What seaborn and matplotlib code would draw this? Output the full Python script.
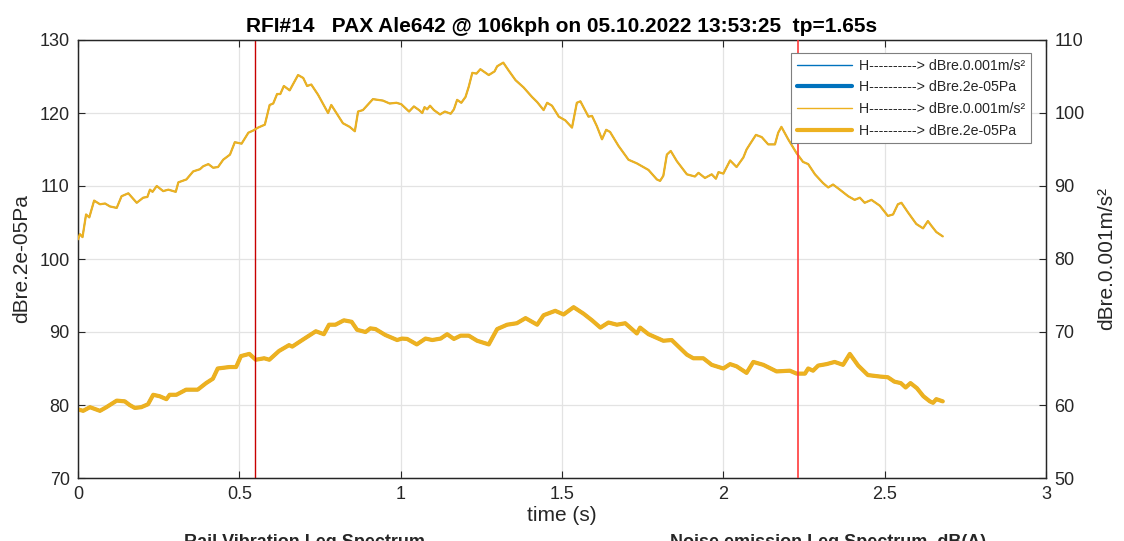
import numpy as np
import pandas as pd
import matplotlib
matplotlib.use("Agg")
import matplotlib.pyplot as plt
from matplotlib.lines import Line2D
import seaborn as sns

# ---------------- data ----------------
# rail vibration level (right axis, dB re 0.001 m/s^2)
t_vib = [0, 0.006, 0.014, 0.025, 0.035, 0.05, 0.068, 0.084, 0.099, 0.12, 0.135, 0.156,
         0.182, 0.202, 0.215, 0.223, 0.231, 0.244, 0.264, 0.28, 0.303, 0.311, 0.336, 0.357,
         0.378, 0.388, 0.404, 0.419, 0.434, 0.45, 0.471, 0.486, 0.507, 0.528, 0.543, 0.558,
         0.579, 0.594, 0.605, 0.617, 0.627, 0.638, 0.656, 0.682, 0.698, 0.71, 0.723, 0.744,
         0.775, 0.785, 0.801, 0.821, 0.842, 0.858, 0.868, 0.883, 0.914, 0.945, 0.966, 0.987,
         1.002, 1.026, 1.041, 1.057, 1.067, 1.074, 1.082, 1.091, 1.103, 1.122, 1.137, 1.155,
         1.165, 1.175, 1.188, 1.201, 1.211, 1.222, 1.235, 1.247, 1.273, 1.291, 1.299, 1.318,
         1.335, 1.356, 1.381, 1.407, 1.423, 1.443, 1.454, 1.469, 1.49, 1.51, 1.531, 1.546,
         1.557, 1.582, 1.593, 1.608, 1.624, 1.637, 1.649, 1.675, 1.706, 1.732, 1.768, 1.794,
         1.804, 1.814, 1.825, 1.837, 1.856, 1.887, 1.912, 1.923, 1.943, 1.964, 1.977, 1.985,
         2.0, 2.021, 2.041, 2.062, 2.072, 2.082, 2.101, 2.119, 2.139, 2.16, 2.17, 2.18,
         2.201, 2.227, 2.247, 2.263, 2.284, 2.309, 2.325, 2.34, 2.361, 2.387, 2.407, 2.423,
         2.438, 2.459, 2.485, 2.51, 2.526, 2.541, 2.552, 2.572, 2.598, 2.619, 2.634, 2.644,
         2.66, 2.68]
vib_db = [82.7, 83.4, 83.0, 86.1, 85.7, 88.0, 87.5, 87.6, 87.2, 87.0, 88.6, 89.0,
          87.7, 88.4, 88.5, 89.5, 89.2, 90.0, 89.3, 89.5, 89.2, 90.5, 90.9, 92.0,
          92.3, 92.7, 93.0, 92.5, 92.6, 93.6, 94.3, 96.0, 95.8, 97.3, 97.6, 98.0,
          98.4, 101.1, 101.3, 102.6, 102.6, 103.7, 103.1, 105.2, 104.8, 103.7, 103.9, 102.5,
          100.0, 101.1, 100.0, 98.6, 98.1, 97.5, 100.2, 100.4, 101.9, 101.7, 101.3, 101.4,
          101.2, 100.2, 100.9, 100.4, 100.0, 100.8, 100.5, 101.0, 100.4, 99.8, 100.2, 99.9,
          100.5, 101.8, 101.4, 102.2, 103.6, 105.5, 105.4, 106.0, 105.2, 105.7, 106.4, 106.9,
          105.8, 104.5, 103.5, 102.2, 101.5, 100.4, 101.4, 101.0, 99.5, 99.0, 98.0, 101.4,
          101.6, 99.5, 99.6, 98.2, 96.4, 97.7, 97.4, 95.5, 93.6, 93.1, 92.2, 90.9,
          90.7, 91.4, 94.3, 94.8, 93.4, 91.6, 91.3, 91.8, 91.1, 91.6, 91.0, 91.9,
          91.7, 93.5, 92.6, 93.9, 95.0, 95.7, 97.0, 96.7, 95.7, 95.7, 97.3, 98.1,
          96.4, 94.5, 93.3, 93.0, 91.6, 90.4, 89.8, 90.2, 89.5, 88.6, 88.1, 88.4,
          87.7, 88.1, 87.3, 85.9, 86.1, 87.5, 87.7, 86.4, 84.8, 84.2, 85.2, 84.6,
          83.7, 83.1]

# noise emission level (left axis, dB re 2e-05 Pa)
t_noise = [0, 0.016, 0.037, 0.068, 0.088, 0.12, 0.145, 0.16, 0.176, 0.196, 0.217, 0.233,
           0.253, 0.274, 0.284, 0.305, 0.335, 0.371, 0.397, 0.418, 0.433, 0.469, 0.49, 0.505,
           0.531, 0.551, 0.577, 0.593, 0.623, 0.654, 0.664, 0.695, 0.737, 0.762, 0.778, 0.798,
           0.824, 0.848, 0.865, 0.891, 0.906, 0.922, 0.952, 0.989, 1.004, 1.02, 1.05, 1.077,
           1.098, 1.124, 1.144, 1.165, 1.186, 1.211, 1.237, 1.273, 1.299, 1.33, 1.36, 1.387,
           1.423, 1.443, 1.479, 1.505, 1.536, 1.567, 1.593, 1.619, 1.644, 1.67, 1.696, 1.732,
           1.742, 1.768, 1.814, 1.84, 1.861, 1.887, 1.907, 1.938, 1.964, 2.0, 2.021, 2.041,
           2.072, 2.093, 2.124, 2.165, 2.206, 2.227, 2.253, 2.263, 2.278, 2.294, 2.32, 2.345,
           2.371, 2.392, 2.418, 2.448, 2.485, 2.51, 2.53, 2.55, 2.565, 2.58, 2.60, 2.62,
           2.64, 2.65, 2.66, 2.68]
noise_db = [79.4, 79.2, 79.7, 79.2, 79.7, 80.6, 80.5, 80.0, 79.6, 79.7, 80.1, 81.4,
            81.2, 80.8, 81.4, 81.4, 82.1, 82.1, 83.0, 83.6, 85.0, 85.2, 85.2, 86.7,
            87.0, 86.2, 86.4, 86.2, 87.4, 88.2, 88.0, 88.9, 90.1, 89.7, 91.0, 91.0,
            91.6, 91.4, 90.3, 90.0, 90.5, 90.4, 89.6, 88.9, 89.1, 89.05, 88.3, 89.1,
            88.9, 89.1, 89.7, 89.05, 89.5, 89.5, 88.8, 88.3, 90.4, 91.0, 91.2, 91.9,
            91.0, 92.3, 92.9, 92.4, 93.4, 92.5, 91.6, 90.6, 91.3, 91.0, 91.2, 89.8,
            90.6, 89.7, 88.8, 88.9, 88.0, 86.9, 86.4, 86.4, 85.5, 85.0, 85.6, 85.3,
            84.4, 85.9, 85.5, 84.6, 84.7, 84.3, 84.3, 85.0, 84.7, 85.4, 85.6, 85.9,
            85.5, 87.0, 85.4, 84.1, 83.9, 83.8, 83.2, 83.0, 82.4, 83.0, 82.3, 81.2,
            80.5, 80.3, 80.8, 80.5]

marker_times = [0.548, 2.232]
x_ticks = [0, 0.5, 1, 1.5, 2, 2.5, 3]
left_ticks = [70, 80, 90, 100, 110, 120, 130]
right_ticks = [50, 60, 70, 80, 90, 100, 110]

title = "RFI#14   PAX Ale642 @ 106kph on 05.10.2022 13:53:25  tp=1.65s"
leg_labels = ["H----------> dBre.0.001m/s\u00b2", "H----------> dBre.2e-05Pa",
              "H----------> dBre.0.001m/s\u00b2", "H----------> dBre.2e-05Pa"]

# ---------------- style ----------------
sns.set_style("white")
plt.rcParams["font.family"] = ["Liberation Sans", "DejaVu Sans"]

BLUE = "#0072BD"
ORANGE = "#EDB120"
AXC = "#262626"

df_vib = pd.DataFrame({"t": t_vib, "v": vib_db})
df_noise = pd.DataFrame({"t": t_noise, "v": noise_db})

fig = plt.figure(figsize=(11.24, 5.41), dpi=100)
ax = fig.add_axes([78 / 1124, 63 / 541, 968 / 1124, 438 / 541])
ax2 = ax.twinx()

# left axis: noise (thick)
sns.lineplot(data=df_noise, x="t", y="v", ax=ax, color=BLUE, lw=2.2,
             sort=False, estimator=None, legend=False, zorder=2)
sns.lineplot(data=df_noise, x="t", y="v", ax=ax, color=ORANGE, lw=3.0,
             sort=False, estimator=None, legend=False, zorder=3)
# right axis: vibration (thin)
sns.lineplot(data=df_vib, x="t", y="v", ax=ax2, color=BLUE, lw=1.0,
             sort=False, estimator=None, legend=False, zorder=2)
sns.lineplot(data=df_vib, x="t", y="v", ax=ax2, color=ORANGE, lw=1.6,
             sort=False, estimator=None, legend=False, zorder=3)

ax.axvline(marker_times[0], color="#c80000", lw=1.0, zorder=4)
ax2.axvline(marker_times[1], color="#ff3b3b", lw=1.2, zorder=4)

ax.set_xlim(0, 3)
ax.set_ylim(70, 130)
ax2.set_ylim(50, 110)
ax.set_xticks(x_ticks)
ax.set_xticklabels(["%g" % v for v in x_ticks])
ax.set_yticks(left_ticks)
ax2.set_yticks(right_ticks)

ax.grid(True, color="#e3e3e3", lw=0.9)
ax.set_axisbelow(True)
ax2.grid(False)

for a in (ax, ax2):
    for s in a.spines.values():
        s.set_color(AXC)
        s.set_linewidth(0.9)
ax.tick_params(axis="x", direction="in", top=True, bottom=True, length=5,
               labelsize=13, colors=AXC, pad=6)
ax.tick_params(axis="y", direction="in", left=True, right=False, length=5,
               labelsize=13, colors=AXC, pad=6)
ax2.tick_params(axis="y", direction="in", right=True, length=5,
                labelsize=13, colors=AXC, pad=6)

ax.set_xlabel("time (s)", fontsize=15, color=AXC, labelpad=2)
ax.set_ylabel("dBre.2e-05Pa", fontsize=15, color=AXC, labelpad=6)
ax2.set_ylabel("dBre.0.001m/s\u00b2", fontsize=15, color=AXC, labelpad=9)
ax.set_title(title, fontsize=15, fontweight="bold", color="black", pad=6)

handles = [Line2D([], [], color=BLUE, lw=1.0),
           Line2D([], [], color=BLUE, lw=3.0),
           Line2D([], [], color=ORANGE, lw=1.0),
           Line2D([], [], color=ORANGE, lw=3.0)]
leg = ax2.legend(handles, leg_labels, loc="upper right",
                 bbox_to_anchor=(0.9845, 0.970), fontsize=10.2,
                 frameon=True, fancybox=False, framealpha=1,
                 edgecolor="#7f7f7f", handlelength=3.9, handletextpad=0.5,
                 borderpad=0.4, labelspacing=0.54, borderaxespad=0)
leg.get_frame().set_linewidth(0.8)

fig.text(305 / 1124, 7 / 541, "Rail Vibration Leq Spectrum", ha="center", va="top",
         fontsize=13, fontweight="bold", color=AXC)
fig.text(828 / 1124, 7 / 541, "Noise emission Leq Spectrum, dB(A)", ha="center", va="top",
         fontsize=13, fontweight="bold", color=AXC)

fig.savefig("out.png", dpi=100)
